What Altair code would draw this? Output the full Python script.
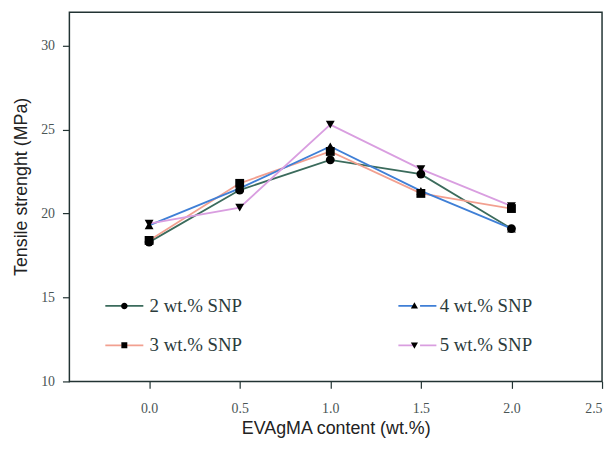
import altair as alt
import pandas as pd

x_vals = [0.0, 0.5, 1.0, 1.5, 2.0]
series_names = ["2 wt.% SNP", "3 wt.% SNP", "4 wt.% SNP", "5 wt.% SNP"]
s2 = [18.3, 21.4, 23.2, 22.35, 19.1]
s3 = [18.4, 21.8, 23.7, 21.2, 20.3]
s4 = [19.3, 21.5, 24.0, 21.35, 19.1]
s5 = [19.4, 20.35, 25.3, 22.65, 20.45]
line_colors = ["#3b6b5c", "#f2a090", "#3f7fd6", "#d99ee0"]
point_shapes = ["circle", "square", "triangle-up", "triangle-down"]
legend_line_paths = ["M-3.2,0H-0.45M0.45,0H3.2"] * 4
legend_marker_paths = [
    "M-3.2,0H3.2M0,-0.55A0.55,0.55,0,1,1,0,0.55A0.55,0.55,0,1,1,0,-0.55Z",
    "M-3.2,0H3.2M-0.5,-0.5H0.5V0.5H-0.5Z",
    "M-3.2,0H3.2M0,-0.6L0.6,0.45L-0.6,0.45Z",
    "M-3.2,0H3.2M0,0.6L0.6,-0.45L-0.6,-0.45Z",
]

rows = []
for name, vals in zip(series_names, [s2, s3, s4, s5]):
    for xv, yv in zip(x_vals, vals):
        rows.append({"x": xv, "y": yv, "series": name})
df = pd.DataFrame(rows)

xenc = alt.X("x:Q", scale=alt.Scale(domain=[-0.44, 2.5], nice=False, zero=False),
             axis=alt.Axis(values=[0, 0.5, 1.0, 1.5, 2.0, 2.5], format=".1f",
                           title="EVAgMA content (wt.%)", labelPadding=13, titlePadding=5))
yenc = alt.Y("y:Q", scale=alt.Scale(domain=[10, 32], nice=False, zero=False),
             axis=alt.Axis(values=[10, 15, 20, 25, 30], title="Tensile strenght (MPa)",
                           labelPadding=8, titlePadding=10, titleY=176))

legend_common = dict(title=None, orient="none", legendX=46, legendY=287,
                     columns=2, rowPadding=20,
                     symbolSize=144, labelOffset=16,
                     labelFont="Liberation Serif", labelFontSize=19)

base = alt.Chart(df)

lines = base.mark_line(strokeWidth=1.8).encode(
    x=xenc, y=yenc,
    color=alt.Color("series:N", scale=alt.Scale(domain=series_names, range=line_colors), legend=None),
)

points = base.mark_point(filled=True, color="black", size=80, opacity=1).encode(
    x=xenc, y=yenc,
    shape=alt.Shape("series:N", scale=alt.Scale(domain=series_names, range=point_shapes), legend=None),
)

legend_lines = base.transform_filter("false").mark_point(filled=False, strokeWidth=1.8, opacity=1).encode(
    x=xenc, y=yenc,
    shape=alt.Shape("series:N", scale=alt.Scale(domain=series_names, range=legend_line_paths),
                    legend=alt.Legend(labelExpr="''", columnPadding=247,
                                      symbolStrokeWidth=1.8, **legend_common)),
    stroke=alt.Stroke("series:N", scale=alt.Scale(domain=series_names, range=line_colors)),
)

legend_markers = base.transform_filter("false").mark_point(filled=True, color="black", opacity=1).encode(
    x=xenc, y=yenc,
    size=alt.value(144),
    shape=alt.Shape("series:N", scale=alt.Scale(domain=series_names, range=legend_marker_paths),
                    legend=alt.Legend(labelColor="#2b3b3b", symbolStrokeWidth=0, columnPadding=154,
                                      symbolFillColor="black", **legend_common)),
)

chart = alt.layer(lines, points, legend_lines, legend_markers).resolve_scale(
    shape="independent", color="independent", stroke="independent"
).properties(
    width=538, height=373,
    autosize=alt.AutoSizeParams(type="none"),
    padding={"left": 62, "right": 4, "top": 2, "bottom": 59},
).configure_view(
    stroke="#223333", strokeWidth=1.5
).configure_axis(
    grid=False, domain=False, tickColor="#223333", tickSize=7, tickWidth=1.2,
    labelFont="Liberation Serif", labelFontSize=14, labelColor="#4a5555",
    titleFont="Liberation Sans", titleFontSize=18, titleFontWeight="normal", titleColor="#222",
)

chart.save("out.html", embed_options={"renderer": "svg", "actions": False})
